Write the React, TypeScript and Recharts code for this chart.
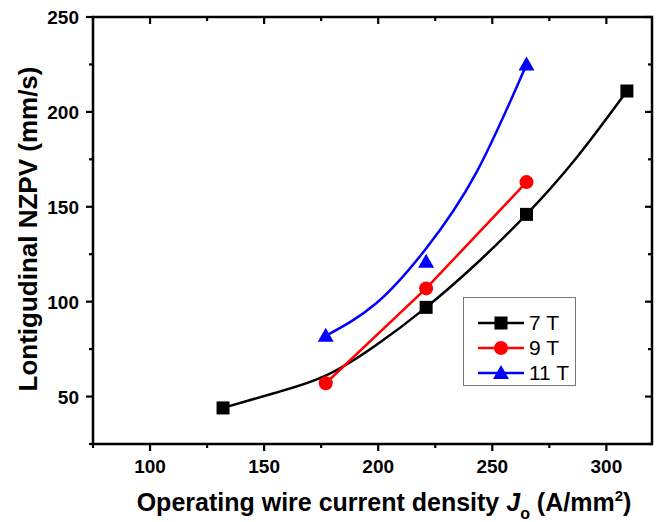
import React from "react";
import { ComposedChart, Line, Scatter, XAxis, YAxis } from "recharts";

// Operating wire current density (A/mm^2) and longitudinal NZPV (mm/s)
const j7T = [132, 221, 265, 309];
const v7T = [44, 97, 146, 211];
const j9T = [177, 221, 265];
const v9T = [57, 107, 163];
const j11T = [177, 221, 265];
const v11T = [82, 121, 225];

// Smooth guide curves
const fit7J = [132, 155, 177, 199, 221, 243, 265, 287, 309];
const fit7V = [44, 52, 61, 77, 97, 120, 146, 176, 211];
const fit11J = [177, 199, 221, 243, 265];
const fit11V = [82, 99, 128, 168, 225];

const xDomain = [75, 320];
const yDomain = [25, 250];
const xTicks = [75, 100, 125, 150, 175, 200, 225, 250, 275, 300];
const yTicks = [25, 50, 75, 100, 125, 150, 175, 200, 225, 250];
const seriesNames = ["7 T", "9 T", "11 T"];

const zip = (xs: number[], ys: number[]) => xs.map((x, i) => ({ x, y: ys[i] }));
const d7 = zip(j7T, v7T);
const d9 = zip(j9T, v9T);
const d11 = zip(j11T, v11T);
const f7 = zip(fit7J, fit7V);
const f11 = zip(fit11J, fit11V);

const FONT = "'Liberation Sans', Arial, Helvetica, sans-serif";
const BLUE = "#0000ff";
const RED = "#ff0000";

const W = 659;
const H = 522;
const M = { top: 17, right: 7, left: 0, bottom: 0 };
const X_AXIS_H = 78;
const Y_AXIS_W = 93;
const PLOT = {
  left: M.left + Y_AXIS_W,
  right: W - M.right,
  top: M.top,
  bottom: H - M.bottom - X_AXIS_H,
};

const isMajor = (v: number) => v % 50 === 0;
const tickLen = (v: number) => (isMajor(v) ? 7 : 4);

// Bottom tick + mirrored inward tick on the top frame edge
const BottomTick = (p: any) => {
  const v = p.payload.value;
  return (
    <g>
      <line x1={p.x} x2={p.x} y1={p.y} y2={p.y + tickLen(v)} stroke="#000" strokeWidth={2.2} />
      <line x1={p.x} x2={p.x} y1={PLOT.top} y2={PLOT.top + tickLen(v)} stroke="#000" strokeWidth={2.2} />
      {isMajor(v) && (
        <text x={p.x} y={p.y + 29} textAnchor="middle" fontFamily={FONT} fontWeight="bold" fontSize={19} fill="#000">
          {v}
        </text>
      )}
    </g>
  );
};
// Left tick + mirrored inward tick on the right frame edge; top value also draws the frame
const LeftTick = (p: any) => {
  const v = p.payload.value;
  return (
    <g>
      <line x1={p.x} x2={p.x - tickLen(v)} y1={p.y} y2={p.y} stroke="#000" strokeWidth={2.2} />
      <line x1={PLOT.right} x2={PLOT.right - tickLen(v)} y1={p.y} y2={p.y} stroke="#000" strokeWidth={2.2} />
      {v === yDomain[1] && (
        <path
          d={`M${p.x - 1.25},${p.y} H${PLOT.right} V${PLOT.bottom + 1.25}`}
          fill="none"
          stroke="#000"
          strokeWidth={2.5}
        />
      )}
      {isMajor(v) && (
        <text x={p.x - 14} y={p.y + 7} textAnchor="end" fontFamily={FONT} fontWeight="bold" fontSize={19} fill="#000">
          {v}
        </text>
      )}
    </g>
  );
};

const Square = (p: any) => <rect x={p.cx - 6.5} y={p.cy - 6.5} width={13} height={13} fill="#000" />;
const Dot = (p: any) => <circle cx={p.cx} cy={p.cy} r={7} fill={RED} />;
const Tri = (p: any) => (
  <polygon points={`${p.cx},${p.cy - 8} ${p.cx - 8},${p.cy + 6} ${p.cx + 8},${p.cy + 6}`} fill={BLUE} />
);

const XTitle = () => (
  <text x={384} y={511} textAnchor="middle" fontFamily={FONT} fontWeight="bold" fontSize={25} fill="#000">
    Operating wire current density{" "}
    <tspan fontStyle="italic">J</tspan>
    <tspan dy={8} fontSize={16}>o</tspan>
    <tspan dy={-8}> (A/mm</tspan>
    <tspan dy={-10} fontSize={15}>2</tspan>
    <tspan dy={10}>)</tspan>
  </text>
);
const YTitle = () => (
  <text
    x={28}
    y={229}
    transform="rotate(-90, 28, 229)"
    textAnchor="middle"
    dominantBaseline="central"
    fontFamily={FONT}
    fontWeight="bold"
    fontSize={26}
    fill="#000"
  >
    Lontigudinal NZPV (mm/s)
  </text>
);

const LegendIcon = ({ color, kind }: { color: string; kind: string }) => (
  <svg width={48} height={16} style={{ display: "block" }}>
    <line x1={1} x2={47} y1={8} y2={8} stroke={color} strokeWidth={2.5} />
    {kind === "s" && <rect x={17.5} y={1.5} width={13} height={13} fill={color} />}
    {kind === "c" && <circle cx={24} cy={8} r={7} fill={color} />}
    {kind === "t" && <polygon points="24,0 16,14 32,14" fill={color} />}
  </svg>
);

export default function App() {
  const legendItems = [
    { name: seriesNames[0], color: "#000", kind: "s" },
    { name: seriesNames[1], color: RED, kind: "c" },
    { name: seriesNames[2], color: BLUE, kind: "t" },
  ];
  return (
    <div style={{ position: "absolute", left: 0, top: 0, width: W, height: H, background: "#fff" }}>
      <ComposedChart width={W} height={H} margin={M}>
        <XAxis
          dataKey="x"
          type="number"
          domain={xDomain}
          ticks={xTicks}
          interval={0}
          tickSize={0}
          tickMargin={0}
          tick={<BottomTick />}
          axisLine={{ stroke: "#000", strokeWidth: 2.5 }}
          height={X_AXIS_H}
          allowDataOverflow
          label={<XTitle />}
        />
        <YAxis
          type="number"
          domain={yDomain}
          ticks={yTicks}
          interval={0}
          tickSize={0}
          tickMargin={0}
          tick={<LeftTick />}
          axisLine={{ stroke: "#000", strokeWidth: 2.5 }}
          width={Y_AXIS_W}
          allowDataOverflow
          label={<YTitle />}
        />
        <Line data={f7} dataKey="y" type="natural" stroke="#000" strokeWidth={2.5} dot={false} isAnimationActive={false} />
        <Line data={d9} dataKey="y" type="linear" stroke={RED} strokeWidth={2.5} dot={false} isAnimationActive={false} />
        <Line data={f11} dataKey="y" type="natural" stroke={BLUE} strokeWidth={2.5} dot={false} isAnimationActive={false} />
        <Scatter data={d7} dataKey="y" shape={<Square />} isAnimationActive={false} />
        <Scatter data={d9} dataKey="y" shape={<Dot />} isAnimationActive={false} />
        <Scatter data={d11} dataKey="y" shape={<Tri />} isAnimationActive={false} />
      </ComposedChart>
      <div
        style={{
          position: "absolute",
          left: 463,
          top: 297,
          width: 113,
          height: 89,
          border: "1px solid #777",
          boxSizing: "border-box",
          paddingTop: 12,
          paddingLeft: 13,
          fontFamily: FONT,
          fontSize: 21,
          background: "#fff",
        }}
      >
        {legendItems.map((it) => (
          <div key={it.name} style={{ display: "flex", alignItems: "center", height: 25, lineHeight: "25px" }}>
            <LegendIcon color={it.color} kind={it.kind} />
            <span style={{ marginLeft: 4 }}>{it.name}</span>
          </div>
        ))}
      </div>
    </div>
  );
}
